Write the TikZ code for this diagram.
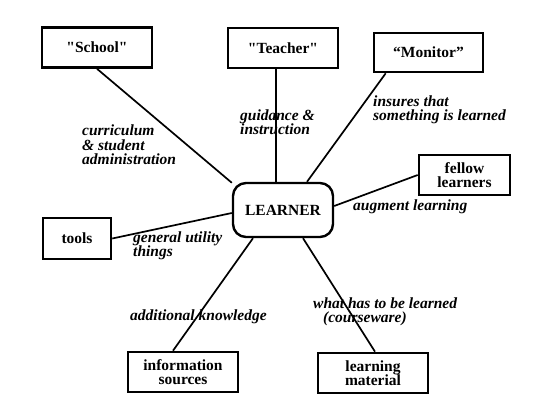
\documentclass[tikz,border=0pt]{standalone}
\usepackage{fontspec}
\setmainfont{Liberation Serif}[Ligatures=TeXOff]

\begin{document}
\begin{tikzpicture}[
    x=1pt, y=1pt,
    box/.style={draw, line width=2.6pt, rectangle, minimum width=110pt, minimum height=40pt, font=\fontsize{15.5}{14.5}\selectfont\bfseries, align=center, inner sep=1pt}, % Style for the outer boxes
        hub/.style={draw, line width=2.4pt, rectangle, rounded corners=13pt, minimum width=100pt, minimum height=54pt, font=\fontsize{15.5}{15}\selectfont\bfseries}, % Style for the learner
    lbl/.style={anchor=west, align=left, inner sep=0pt, font=\fontsize{15.5}{14.5}\selectfont\bfseries\itshape}, % Style for the edge texts
    link/.style={line width=1.7pt}
]
% Fix the page size to the reference
\useasboundingbox (0,0) rectangle (540,413);

% The learner in the middle
\node[hub] (learner) at (283,203) {LEARNER};

% Boxes around it
\node[box] (school) at (97,365.5) {"School"};
\node[box] (teacher) at (283,365) {"Teacher"};
\node[box, minimum width=109pt, minimum height=39pt] (monitor) at (428.5,360.5) {“Monitor”};
\node[box, minimum width=91pt] (fellow) at (464.5,238) {fellow\\learners};
\node[box, minimum width=68pt, minimum height=41pt] (tools) at (77,174.5) {tools};
\node[box] (info) at (183,41) {information\\sources};
\node[box] (material) at (373,40) {learning\\material};

% Connectors
\draw[link] (school.south) -- (learner.152);
\draw[link] ([xshift=-7pt]teacher.south) -- ([xshift=-7pt]learner.north);
\draw[link] ([xshift=13pt]monitor.south west) -- ([xshift=24pt]learner.north);
\draw[link] (fellow.west) -- ([yshift=4pt]learner.east);
\draw[link] (tools.east) -- ([yshift=-3pt]learner.west);
\draw[link] ([xshift=-10pt]info.north) -- ([xshift=-30pt]learner.south);
\draw[link] ([xshift=2pt]material.north) -- ([xshift=20pt]learner.south);

% Texts along the connectors
\node[lbl] (t1) at (82,268) {curriculum\\\& student\\administration};
\node[lbl] (t2) at (240,291) {guidance \&\\instruction};
\node[lbl] (t3) at (373,303) {insures that\\something is learned};
\node[lbl] (t4) at (353,206) {augment learning};
\node[lbl] (t5) at (133,167) {general utility\\things};
\node[lbl] (t6) at (130,96) {additional knowledge};
\node[lbl] (t7) at (313,101) {what has to be learned\\\hspace*{10pt}(courseware)};

\end{tikzpicture}
\end{document}
